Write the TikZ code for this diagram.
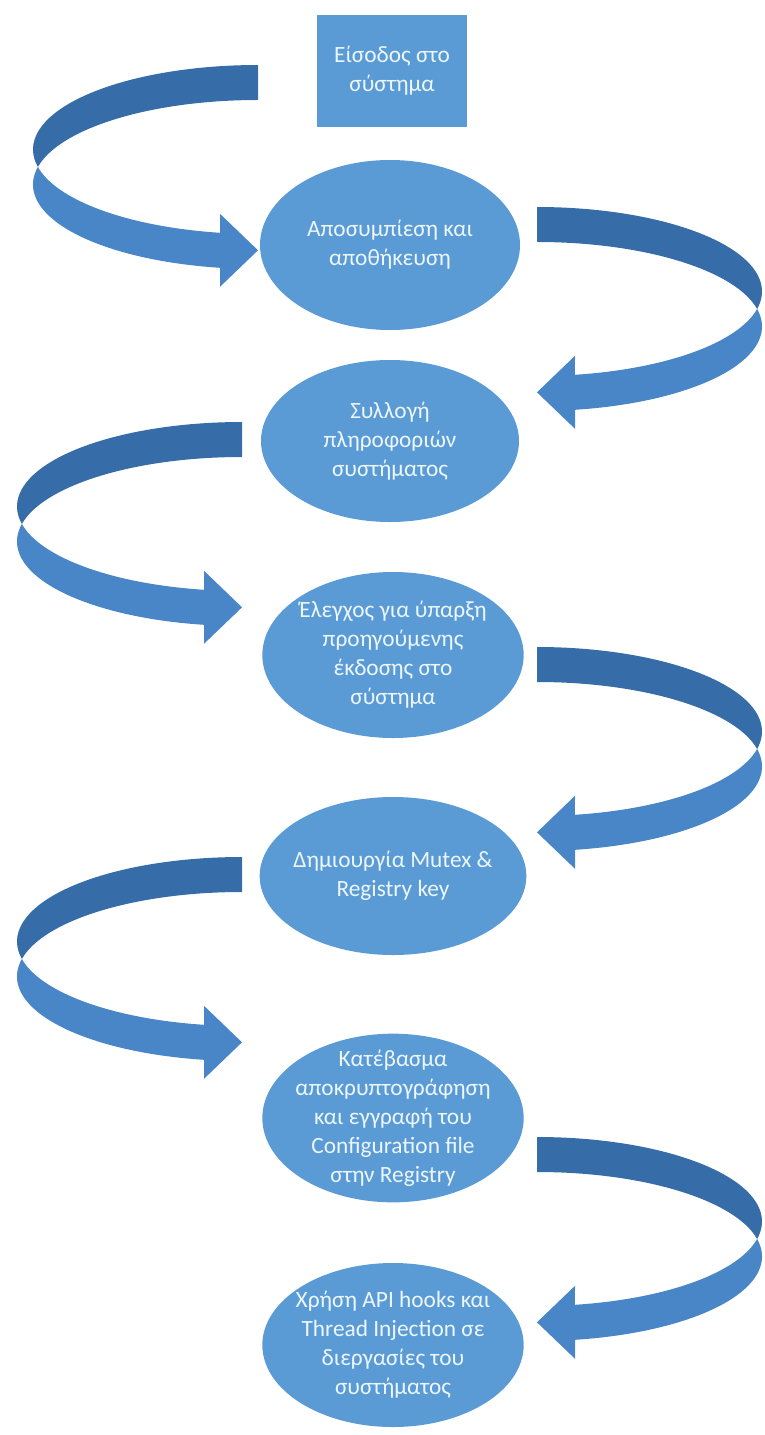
\documentclass[tikz,border=0pt]{standalone}
\usepackage{fontspec}
\setmainfont{Carlito}
\usetikzlibrary{shapes.geometric}
\definecolor{shapefill}{RGB}{91,155,213}
\definecolor{arrowfront}{RGB}{72,134,199}
\definecolor{arrowback}{RGB}{54,108,168}
\definecolor{txtcol}{RGB}{236,246,253}
\tikzset{
  stepshape/.style={fill=shapefill, text=txtcol, align=center, inner sep=0pt,
    font=\fontsize{17.5}{21.8}\selectfont},
  ellbox/.style={stepshape, ellipse, inner sep=-25pt},
  rectbox/.style={stepshape, rectangle},
  curvearrow/.pic={
    % back (upper) band
    \fill[arrowback] (0,0)
      arc[start angle=-90, end angle=-191.95, x radius=225, y radius=84.5]
      arc[start angle=191.95, end angle=270, x radius=225, y radius=84.5]
      -- cycle;
    % front (lower) band with head
    \fill[arrowfront] (-220.1,102)
      arc[start angle=168.05, end angle=99.72, x radius=225, y radius=84.5]
      -- (-38,148.8) -- (0,185.3) -- (-38,221.8) -- (-38,202.8)
      arc[start angle=99.72, end angle=191.95, x radius=225, y radius=84.5]
      -- cycle;
  }
}
\begin{document}
\begin{tikzpicture}[x=0.75pt,y=-0.75pt]
\useasboundingbox (0,0) rectangle (764,1435);

% curved block arrows
\pic at (258,65) {curvearrow};
\pic[xscale=-1] at (537,207) {curvearrow};
\pic at (242,422) {curvearrow};
\pic[xscale=-1] at (537,647) {curvearrow};
\pic at (242,857) {curvearrow};
\pic[xscale=-1] at (537,1137) {curvearrow};

% steps
\node[rectbox, minimum width=112.5pt, minimum height=84pt] (start) at (392,71)
  {Είσοδος στο\\σύστημα};
\node[ellbox, minimum width=195pt, minimum height=127.5pt] (e1) at (390,245)
  {Αποσυμπίεση και\\αποθήκευση};
\node[ellbox, minimum width=193.5pt, minimum height=121.5pt] (e2) at (390,441)
  {Συλλογή\\πληροφοριών\\συστήματος};
\node[ellbox, minimum width=196pt, minimum height=124.5pt] (e3) at (393,655)
  {Έλεγχος για ύπαρξη\\προηγούμενης\\έκδοσης στο\\σύστημα};
\node[ellbox, minimum width=200pt, minimum height=118.5pt] (e4) at (393,876)
  {Δημιουργία Mutex \&\\Registry key};
\node[ellbox, minimum width=196pt, minimum height=126.5pt] (e5) at (393,1118)
  {Κατέβασμα\\αποκρυπτογράφηση\\και εγγραφή του\\Configuration file\\στην Registry};
\node[ellbox, minimum width=196pt, minimum height=123pt] (e6) at (393,1345)
  {Χρήση API hooks και\\Thread Injection σε\\διεργασίες του\\συστήματος};
\end{tikzpicture}
\end{document}
